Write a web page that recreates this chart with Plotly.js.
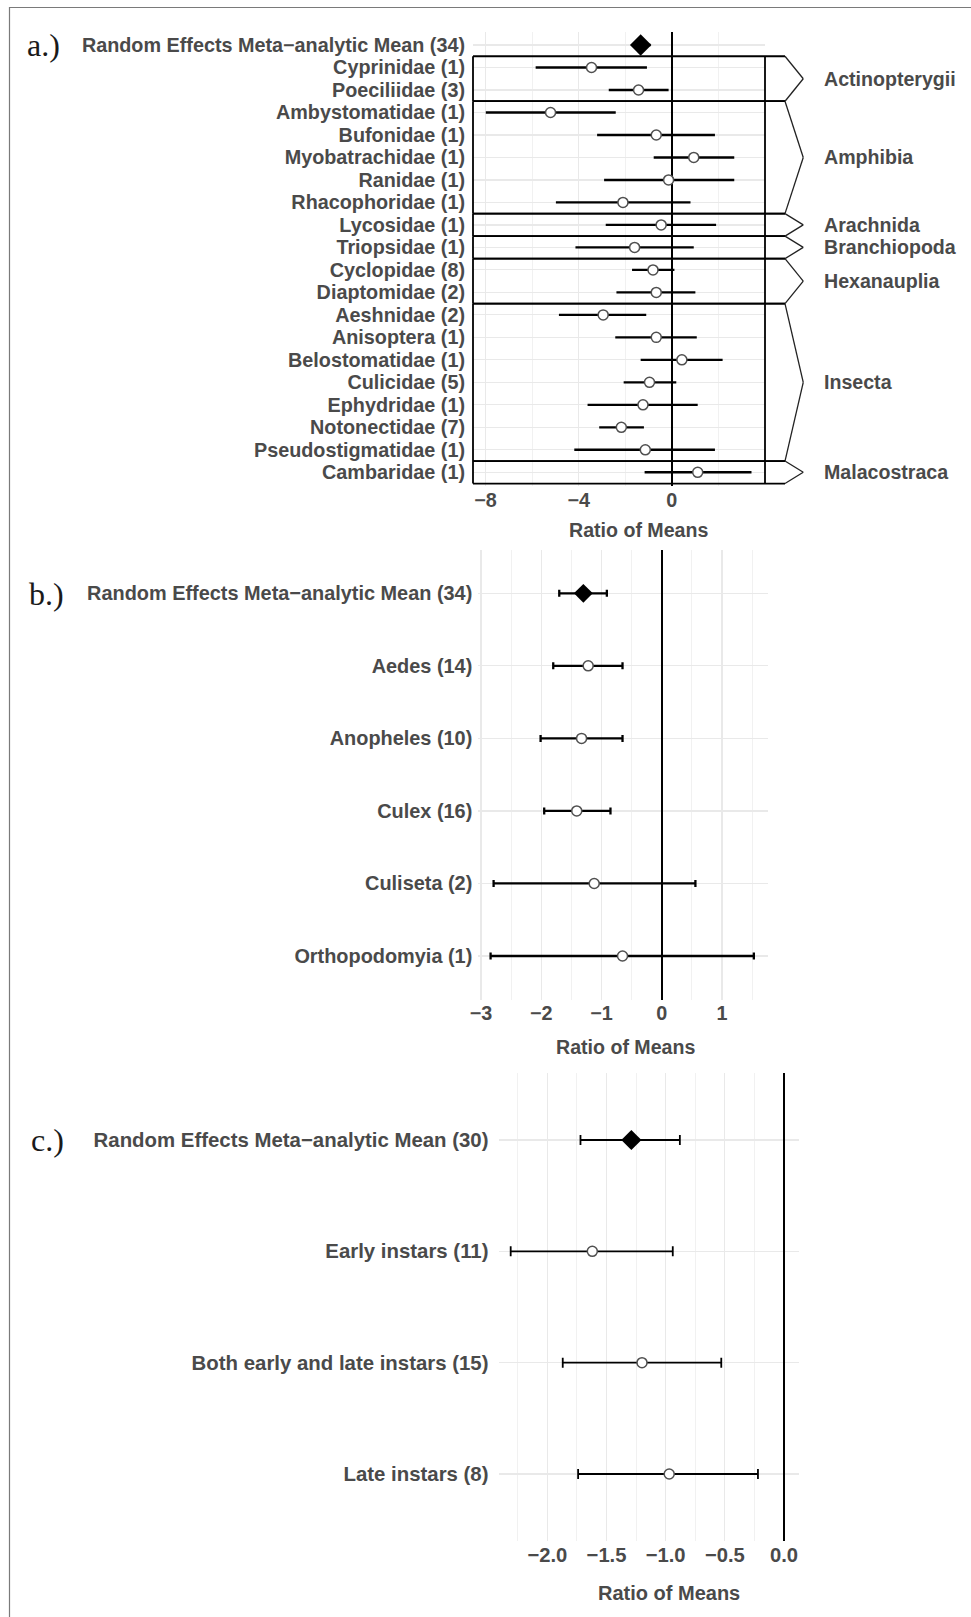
<!DOCTYPE html>
<html>
<head>
<meta charset="utf-8">
<script src="https://cdn.plot.ly/plotly-3.0.1.min.js"></script>
<style>
html, body { margin: 0; padding: 0; background: #ffffff; }
#chart { width: 971px; height: 1617px; }
</style>
</head>
<body>
<div id="chart"></div>
<script>
// ---------------- DATA ----------------
// Panel a: families
const reLabelA = "Random Effects Meta\u2212analytic Mean (34)";
const reMeanA = -1.34, reLoA = -1.70, reHiA = -0.91;
const famNames = ["Cyprinidae (1)", "Poeciliidae (3)", "Ambystomatidae (1)", "Bufonidae (1)",
  "Myobatrachidae (1)", "Ranidae (1)", "Rhacophoridae (1)", "Lycosidae (1)", "Triopsidae (1)",
  "Cyclopidae (8)", "Diaptomidae (2)", "Aeshnidae (2)", "Anisoptera (1)", "Belostomatidae (1)",
  "Culicidae (5)", "Ephydridae (1)", "Notonectidae (7)", "Pseudostigmatidae (1)", "Cambaridae (1)"];
const famMean = [-3.45, -1.43, -5.21, -0.67, 0.94, -0.14, -2.10, -0.46, -1.60, -0.81, -0.67, -2.95, -0.67, 0.43, -0.96, -1.24, -2.17, -1.14, 1.11];
const famLo   = [-5.85, -2.71, -7.99, -3.21, -0.78, -2.91, -4.98, -2.84, -4.14, -1.71, -2.38, -4.85, -2.43, -1.34, -2.07, -3.62, -3.12, -4.19, -1.17];
const famHi   = [-1.07, -0.14, -2.41, 1.85, 2.68, 2.68, 0.80, 1.90, 0.94, 0.11, 1.01, -1.10, 1.07, 2.18, 0.19, 1.11, -1.20, 1.85, 3.42];
const classNames  = ["Actinopterygii", "Amphibia", "Arachnida", "Branchiopoda", "Hexanauplia", "Insecta", "Malacostraca"];
const classCounts = [2, 5, 1, 1, 2, 7, 1];
const ticksA = [-8, -4, 0];
const minorA = [-6, -2, 2];

// Panel b: mosquito genera
const reLabelB = "Random Effects Meta\u2212analytic Mean (34)";
const reMeanB = -1.30, reLoB = -1.70, reHiB = -0.91;
const genusNames = ["Aedes (14)", "Anopheles (10)", "Culex (16)", "Culiseta (2)", "Orthopodomyia (1)"];
const genusMean = [-1.22, -1.33, -1.41, -1.12, -0.65];
const genusLo   = [-1.80, -2.01, -1.95, -2.79, -2.84];
const genusHi   = [-0.65, -0.65, -0.85, 0.56, 1.53];
const ticksB = [-3, -2, -1, 0, 1];
const minorB = [-2.5, -1.5, -0.5, 0.5, 1.5];

// Panel c: instar stages
const reLabelC = "Random Effects Meta\u2212analytic Mean (30)";
const reMeanC = -1.29, reLoC = -1.72, reHiC = -0.88;
const stageNames = ["Early instars (11)", "Both early and late instars (15)", "Late instars (8)"];
const stageMean = [-1.62, -1.20, -0.97];
const stageLo   = [-2.31, -1.87, -1.74];
const stageHi   = [-0.94, -0.53, -0.22];
const ticksC = [-2.0, -1.5, -1.0, -0.5, 0.0];
const tickTextC = ["\u22122.0", "\u22121.5", "\u22121.0", "\u22120.5", "0.0"];
const minorC = [-2.25, -1.75, -1.25, -0.75, -0.25];

const axisTitle = "Ratio of Means";
const panelLetters = ["a.)", "b.)", "c.)"];

// ---------------- STYLE HELPERS ----------------
const W = 971, H = 1617;
const px = v => v / W;
const py = v => 1 - v / H;
const FONT = "Liberation Sans, Arial, Helvetica, sans-serif";
const TXT = "#4a4a4a";
const GRID = "#e9e9e9";
const GRIDMINOR = "#f1f1f1";

function idx(n, start) { const a = []; for (let i = 0; i < n; i++) a.push(start + i); return a; }
function up(m, h) { return m.map((v, i) => h[i] - v); }
function dn(m, l) { return m.map((v, i) => v - l[i]); }

function studyTrace(mean, lo, hi, ax, ay, thick, cap) {
  return {
    type: "scatter", mode: "markers", x: mean, y: idx(mean.length, 2),
    xaxis: ax, yaxis: ay, showlegend: false, hoverinfo: "skip",
    marker: { symbol: "circle", size: 10, color: "#ffffff", line: { color: "#505050", width: 1.5 } },
    error_x: { type: "data", symmetric: false, array: up(mean, hi), arrayminus: dn(mean, lo),
      color: "#000000", thickness: thick, width: cap }
  };
}
function reTrace(m, l, h, ax, ay, thick, cap, size) {
  return {
    type: "scatter", mode: "markers", x: [m], y: [1], xaxis: ax, yaxis: ay,
    showlegend: false, hoverinfo: "skip",
    marker: { symbol: "diamond", size: size, color: "#000000", line: { width: 0 } },
    error_x: { type: "data", symmetric: false, array: [h - m], arrayminus: [m - l],
      color: "#000000", thickness: thick, width: cap }
  };
}

const traces = [
  studyTrace(famMean, famLo, famHi, "x", "y", 2.4, 0),
  reTrace(reMeanA, reLoA, reHiA, "x", "y", 2.4, 0, 16.5),
  studyTrace(genusMean, genusLo, genusHi, "x2", "y2", 2.3, 3.5),
  reTrace(reMeanB, reLoB, reHiB, "x2", "y2", 2.3, 3.5, 14.5),
  studyTrace(stageMean, stageLo, stageHi, "x3", "y3", 1.8, 5),
  reTrace(reMeanC, reLoC, reHiC, "x3", "y3", 1.8, 5, 15.5)
];

function tf(size) { return { family: FONT, size: size, color: TXT, weight: "bold" }; }

function xAxis(dom, range, tv, tt, minor, anchor, fs) {
  const a = {
    domain: dom, range: range, anchor: anchor, tickmode: "array", tickvals: tv,
    ticks: "", showline: false, showgrid: true, gridcolor: GRID, gridwidth: 1.2,
    zeroline: true, zerolinecolor: "#000000", zerolinewidth: 2,
    tickfont: tf(fs), fixedrange: true,
    minor: { tickmode: "array", tickvals: minor, showgrid: true, gridcolor: GRIDMINOR, gridwidth: 1, ticks: "" }
  };
  if (tt) a.ticktext = tt;
  return a;
}
function yAxis(dom, n, labels, anchor, fs, standoff) {
  return {
    domain: dom, range: [n + 0.6, 0.4], anchor: anchor, tickmode: "array",
    tickvals: idx(n, 1), ticktext: labels, ticks: "", showline: false,
    showgrid: true, gridcolor: GRID, gridwidth: 1.2, zeroline: false,
    tickfont: tf(fs), ticklabelstandoff: standoff, fixedrange: true
  };
}

const nA = famNames.length + 1, nB = genusNames.length + 1, nC = stageNames.length + 1;

const layout = {
  width: W, height: H, margin: { l: 0, r: 0, t: 0, b: 0 },
  paper_bgcolor: "#ffffff", plot_bgcolor: "#ffffff",
  font: { family: FONT, color: TXT },
  xaxis: xAxis([px(473), px(765)], [-8.54, 4.0], ticksA, null, minorA, "y", 19.8),
  yaxis: yAxis([py(485.8), py(31.5)], nA, [reLabelA].concat(famNames), "x", 19.8, 7),
  xaxis2: xAxis([px(478.3), px(768.3)], [-3.044, 1.77], ticksB, null, minorB, "y2", 19.8),
  yaxis2: yAxis([py(999.5), py(549.8)], nB, [reLabelB].concat(genusNames), "x2", 19.9, 5),
  xaxis3: xAxis([px(498.5), px(799)], [-2.413, 0.127], ticksC, tickTextC, minorC, "y3", 20.2),
  yaxis3: yAxis([py(1540.8), py(1073.2)], nC, [reLabelC].concat(stageNames), "x3", 20.4, 9),
  shapes: [],
  annotations: []
};

// Figure frame (top and left edges)
layout.shapes.push({ type: "path", xref: "paper", yref: "paper",
  path: `M ${px(9.5)},0 L ${px(9.5)},${py(7.5)} L 1,${py(7.5)}`,
  line: { color: "#7a7a7a", width: 1.2 } });

// Class boxes + chevrons in panel a
let start = 2;
classCounts.forEach((cnt, k) => {
  const top = start - 0.5, bot = start + cnt - 0.5, mid = start + (cnt - 1) / 2;
  const L = { color: "#000000", width: 1.8 };
  const Lt = { color: "#222222", width: 1.3 };
  layout.shapes.push({ type: "line", xref: "x domain", yref: "y", x0: 0, x1: 1.0685, y0: top, y1: top, line: L });
  layout.shapes.push({ type: "line", xref: "x domain", yref: "y", x0: 0, x1: 1.0685, y0: bot, y1: bot, line: L });
  layout.shapes.push({ type: "line", xref: "x domain", yref: "y", x0: 0, x1: 0, y0: top, y1: bot, line: L });
  layout.shapes.push({ type: "line", xref: "x domain", yref: "y", x0: 1, x1: 1, y0: top, y1: bot, line: L });
  layout.shapes.push({ type: "line", xref: "x domain", yref: "y", x0: 1.0685, x1: 1.131, y0: top, y1: mid, line: Lt });
  layout.shapes.push({ type: "line", xref: "x domain", yref: "y", x0: 1.131, x1: 1.0685, y0: mid, y1: bot, line: Lt });
  layout.annotations.push({ xref: "paper", yref: "y", x: px(822), y: mid, xanchor: "left", yanchor: "middle",
    text: classNames[k], showarrow: false, font: tf(19.6) });
  start += cnt;
});

// Axis titles
[["x domain", 0.568, 530, 19.6], ["x2 domain", 0.507, 1047.3, 19.6], ["x3 domain", 0.566, 1593.3, 20]].forEach(t => {
  layout.annotations.push({ xref: t[0], yref: "paper", x: t[1], y: py(t[2]), xanchor: "center", yanchor: "middle",
    text: axisTitle, showarrow: false, font: tf(t[3]) });
});

// Panel letters
[[25, 45], [27, 594], [29, 1140]].forEach((p, i) => {
  layout.annotations.push({ xref: "paper", yref: "paper", x: px(p[0]), y: py(p[1]), xanchor: "left", yanchor: "middle",
    text: panelLetters[i], showarrow: false, font: { family: "Liberation Serif, Times New Roman, serif", size: 32, color: "#1a1a1a" } });
});

Plotly.newPlot("chart", traces, layout, { staticPlot: true, displayModeBar: false });
</script>
</body>
</html>
